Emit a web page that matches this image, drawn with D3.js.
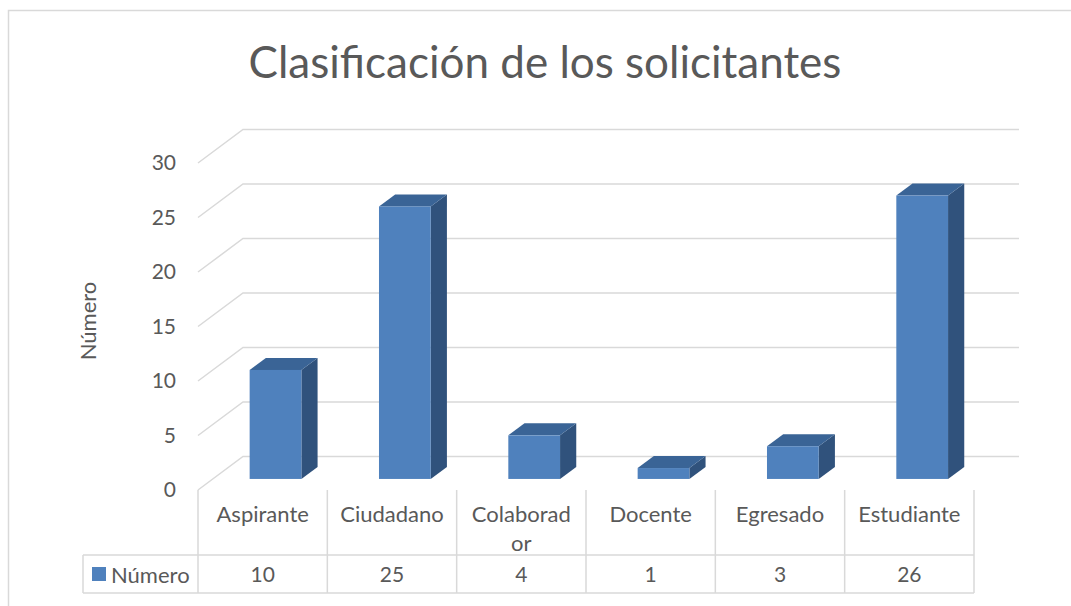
<!DOCTYPE html>
<html>
<head>
<meta charset="utf-8">
<script src="https://cdn.jsdelivr.net/npm/d3@7.9.0/dist/d3.min.js"></script>
<style>
  body { margin: 0; background: #fff; }
  text { font-family: Lato, "Noto Sans", sans-serif; fill: #595959; }
</style>
</head>
<body>
<svg id="chart" width="1071" height="606"></svg>
<script>
const title = "Clasificación de los solicitantes";
const categories = ["Aspirante", "Ciudadano", "Colaborador", "Docente", "Egresado", "Estudiante"];
const catLines = [["Aspirante"], ["Ciudadano"], ["Colaborad", "or"], ["Docente"], ["Egresado"], ["Estudiante"]];
const values = [10, 25, 4, 1, 3, 26];
const yTicks = [0, 5, 10, 15, 20, 25, 30];
const seriesName = "Número";

const svg = d3.select("#chart");
const grid = "#d9d9d9";

// chart frame
svg.append("path").attr("d", "M8.5,606V10.5H1071").attr("fill", "none").attr("stroke", grid).attr("stroke-width", 1.5);

// front plane scales + oblique depth vector
const x = d3.scaleBand().domain(categories).range([198, 974]);
const y = d3.scaleLinear().domain([0, 30]).range([490, 163]);
const dx = 45, dy = -33.5;

// gridlines: left wall diagonal + back wall horizontal
yTicks.forEach((t) => {
  let y0 = y(t);
  svg.append("path")
    .attr("d", `M${x.range()[0]},${y0}L${x.range()[0] + dx},${y0 + dy}H${x.range()[1] + dx}`)
    .attr("fill", "none").attr("stroke", grid).attr("stroke-width", 1.5);
  svg.append("text").attr("x", 176).attr("y", y0).attr("dy", "0.35em")
    .attr("text-anchor", "end").attr("font-size", 21).text(t);
});

// bars
const z0 = 0.33, z1 = 0.69;
const bw = x.bandwidth() * 0.4;
categories.forEach((c, i) => {
  let xl = x(c) + x.bandwidth() / 2 - bw / 2 + dx * z0 - 2;
  let xr = xl + bw;
  let yb = y(0) + dy * z0;
  let yt = y(values[i]) + dy * z0;
  let ox = dx * (z1 - z0), oy = dy * (z1 - z0);
  svg.append("path").attr("d", `M${xr},${yb}L${xr + ox},${yb + oy}V${yt + oy}L${xr},${yt}Z`).attr("fill", "#30527c");
  svg.append("path").attr("d", `M${xl},${yt}L${xl + ox},${yt + oy}H${xr + ox}L${xr},${yt}Z`).attr("fill", "#3a6496");
  svg.append("rect").attr("x", xl).attr("y", yt).attr("width", bw).attr("height", yb - yt).attr("fill", "#4f81bd");
});

// data table
const r0 = 490, r1 = 555, r2 = 593, keyLeft = 83;
const tbl = svg.append("g").attr("stroke", grid).attr("stroke-width", 1.5);
x.domain().concat([null]).forEach((c) => {
  let xx = c === null ? x.range()[1] : x(c);
  tbl.append("line").attr("x1", xx).attr("x2", xx).attr("y1", r0).attr("y2", r2);
});
tbl.append("line").attr("x1", keyLeft).attr("x2", x.range()[1]).attr("y1", r1).attr("y2", r1);
tbl.append("line").attr("x1", keyLeft).attr("x2", x.range()[1]).attr("y1", r2).attr("y2", r2);
tbl.append("line").attr("x1", keyLeft).attr("x2", keyLeft).attr("y1", r1).attr("y2", r2);

categories.forEach((c, i) => {
  let cx = x(c) + x.bandwidth() / 2;
  catLines[i].forEach((ln, j) => {
    svg.append("text").attr("x", cx).attr("y", 514 + j * 29).attr("dy", "0.35em")
      .attr("text-anchor", "middle").attr("font-size", 22).text(ln);
  });
  svg.append("text").attr("x", cx).attr("y", 575).attr("dy", "0.35em")
    .attr("text-anchor", "middle").attr("font-size", 21).text(values[i]);
});

// legend key in table
svg.append("rect").attr("x", 92).attr("y", 567).attr("width", 14).attr("height", 14).attr("fill", "#4f81bd");
svg.append("text").attr("x", 111).attr("y", 575).attr("dy", "0.35em").attr("font-size", 22).text(seriesName);

// axis title
svg.append("text").attr("transform", "translate(88,321) rotate(-90)").attr("dy", "0.35em")
  .attr("text-anchor", "middle").attr("font-size", 22).text(seriesName);

// chart title
svg.append("text").attr("x", 545).attr("y", 78).attr("text-anchor", "middle")
  .attr("font-size", 44).text(title);
</script>
</body>
</html>
